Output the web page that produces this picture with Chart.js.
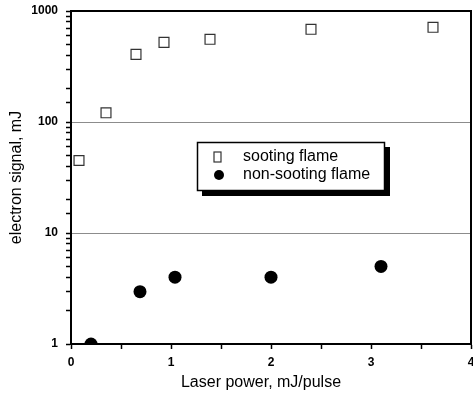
<!DOCTYPE html>
<html>
<head>
<meta charset="utf-8">
<script src="https://cdn.jsdelivr.net/npm/chart.js@4.4.0/dist/chart.umd.min.js"></script>
<style>
  html, body { margin: 0; padding: 0; background: #fff; }
  canvas { display: block; }
</style>
</head>
<body>
<canvas id="chart" width="473" height="399"></canvas>
<script>
// values
const sootingX = [0.08, 0.35, 0.65, 0.93, 1.39, 2.40, 3.62];
const sootingY = [45, 121, 407, 522, 556, 684, 713];
const nonSootingX = [0.20, 0.69, 1.04, 2.00, 3.10];
const nonSootingY = [1.0, 2.96, 4.0, 4.0, 5.0];

const seriesLabels = ['sooting flame', 'non-sooting flame'];
const xTickLabels = [0, 1, 2, 3, 4];
const yTickLabels = [1, 10, 100, 1000];
const yGridValues = [10, 100];
const xTitle = 'Laser power, mJ/pulse';
const yTitle = 'electron signal, mJ';

const FONT = '"Liberation Sans", Arial, Helvetica, sans-serif';

const toPoints = (xs, ys) => xs.map((x, i) => ({ x: x, y: ys[i] }));
const isIn = (list, v) => list.some(t => Math.abs(t - v) < 1e-6);

// top/right frame, boxed legend with shadow, x title
const decorPlugin = {
    id: 'decor',
    afterDraw(chart) {
        const { ctx, chartArea } = chart;
        ctx.save();

        ctx.strokeStyle = '#000';
        ctx.lineWidth = 2;
        ctx.beginPath();
        ctx.moveTo(chartArea.left, chartArea.top);
        ctx.lineTo(chartArea.right, chartArea.top);
        ctx.lineTo(chartArea.right, chartArea.bottom);
        ctx.stroke();

        // legend box
        ctx.fillStyle = '#000';
        ctx.fillRect(202, 147, 188, 49);
        ctx.fillStyle = '#fff';
        ctx.fillRect(197, 142, 188, 49);
        ctx.lineWidth = 1.5;
        ctx.strokeRect(197.5, 142.5, 187, 48);

        const rows = [157, 175];
        chart.data.datasets.forEach((ds, i) => {
            const y = rows[i];
            if (ds.pointStyle === 'rect') {
                ctx.strokeStyle = '#333';
                ctx.lineWidth = 1.2;
                ctx.strokeRect(214, y - 5, 7, 10);
            } else {
                ctx.fillStyle = '#000';
                ctx.beginPath();
                ctx.arc(219, y, 5, 0, Math.PI * 2);
                ctx.fill();
            }
            ctx.fillStyle = '#000';
            ctx.font = '16px ' + FONT;
            ctx.textBaseline = 'middle';
            ctx.textAlign = 'left';
            ctx.fillText(ds.label, 243, y);
        });

        ctx.font = '16px ' + FONT;
        ctx.textAlign = 'center';
        ctx.textBaseline = 'middle';
        ctx.fillStyle = '#000';
        ctx.fillText(xTitle, 261, 383);
        ctx.restore();
    }
};

const ctx = document.getElementById('chart').getContext('2d');
new Chart(ctx, {
    type: 'scatter',
    data: {
        datasets: [{
            label: seriesLabels[0],
            data: toPoints(sootingX, sootingY),
            pointStyle: 'rect',
            pointRadius: 7,
            backgroundColor: 'rgba(255,255,255,0)',
            borderColor: '#333',
            borderWidth: 1.2
        }, {
            label: seriesLabels[1],
            data: toPoints(nonSootingX, nonSootingY),
            pointStyle: 'circle',
            pointRadius: 6.5,
            backgroundColor: '#000',
            borderColor: '#000',
            borderWidth: 0,
            clip: 0
        }]
    },
    options: {
        responsive: false,
        animation: false,
        layout: { autoPadding: false, padding: { top: 11, right: 2, left: 0, bottom: 0 } },
        plugins: { legend: { display: false }, tooltip: { enabled: false } },
        scales: {
            x: {
                type: 'linear',
                min: 0,
                max: 4,
                ticks: {
                    stepSize: 0.5,
                    autoSkip: false,
                    maxRotation: 0,
                    padding: 6,
                    color: '#000',
                    font: { family: FONT, size: 12, weight: 'bold' },
                    callback: v => isIn(xTickLabels, v) ? String(Math.round(v)) : ''
                },
                grid: { drawOnChartArea: false, tickLength: 5, tickColor: '#000', tickWidth: 1.5 },
                border: { color: '#000', width: 2 },
                afterFit(s) { s.height = 55; s.paddingLeft = 0; s.paddingRight = 0; }
            },
            y: {
                type: 'logarithmic',
                min: 1,
                max: 1000,
                ticks: {
                    autoSkip: false,
                    padding: 8,
                    color: '#000',
                    font: { family: FONT, size: 12, weight: 'bold' },
                    callback: v => isIn(yTickLabels, v) ? String(Math.round(v)) : ''
                },
                grid: {
                    color: c => (c.tick && isIn(yGridValues, c.tick.value)) ? '#8c8c8c' : 'rgba(0,0,0,0)',
                    lineWidth: 1,
                    tickLength: 5,
                    tickColor: '#000',
                    tickWidth: 1.5
                },
                border: { color: '#000', width: 2 },
                title: {
                    display: true,
                    text: yTitle,
                    color: '#000',
                    font: { family: FONT, size: 16 },
                    padding: { top: 7, bottom: 0 }
                },
                afterFit(s) { s.width = 71; s.paddingTop = 0; s.paddingBottom = 0; }
            }
        }
    },
    plugins: [decorPlugin]
});
</script>
</body>
</html>
